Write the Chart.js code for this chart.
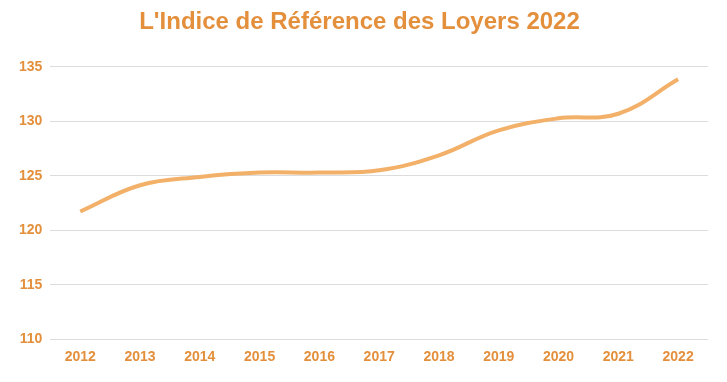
<!DOCTYPE html>
<html>
<head>
<meta charset="utf-8">
<script src="https://cdn.jsdelivr.net/npm/chart.js@4/dist/chart.umd.min.js"></script>
<style>
html,body{margin:0;padding:0;background:#fff;}
#wrap{width:727px;height:382px;position:relative;}
</style>
</head>
<body>
<div id="wrap"><canvas id="c"></canvas></div>
<script>
const categories = ['2012','2013','2014','2015','2016','2017','2018','2019','2020','2021','2022'];
const irlValues = [121.72, 124.13, 124.89, 125.29, 125.29, 125.5, 126.88, 129.17, 130.27, 130.69, 133.85];
const yTicks = [110, 115, 120, 125, 130, 135];
const titleText = "L'Indice de Référence des Loyers 2022";

const orange = '#e38f3c';
new Chart(document.getElementById('c'), {
  type: 'line',
  data: {
    labels: categories,
    datasets: [{
      label: 'IRL',
      data: irlValues,
      borderColor: '#f2b069',
      backgroundColor: '#f2b069',
      borderWidth: 4,
      tension: 0.4,
      pointRadius: 0,
      fill: false
    }]
  },
  options: {
    responsive: true,
    maintainAspectRatio: false,
    animation: false,
    layout: { padding: { left: 11, right: 19, top: 0, bottom: 6 } },
    plugins: {
      legend: { display: false },
      tooltip: { enabled: false },
      title: {
        display: true,
        text: titleText,
        color: orange,
        font: { family: 'Liberation Sans, Arial, sans-serif', size: 24, weight: 'bold' },
        padding: { top: 8, bottom: 30 }
      }
    },
    scales: {
      x: {
        offset: true,
        grid: { display: false, drawTicks: false },
        border: { display: false },
        ticks: {
          color: orange,
          padding: 10,
          maxRotation: 0,
          font: { family: 'Liberation Sans, Arial, sans-serif', size: 14, weight: 'bold' }
        }
      },
      y: {
        min: 110,
        max: 135,
        afterBuildTicks: (axis) => { axis.ticks = yTicks.map(v => ({ value: v })); },
        grid: { color: '#dcdcdc', drawTicks: false },
        border: { display: false },
        ticks: {
          color: orange,
          padding: 8,
          font: { family: 'Liberation Sans, Arial, sans-serif', size: 14, weight: 'bold' }
        }
      }
    }
  }
});
</script>
</body>
</html>
